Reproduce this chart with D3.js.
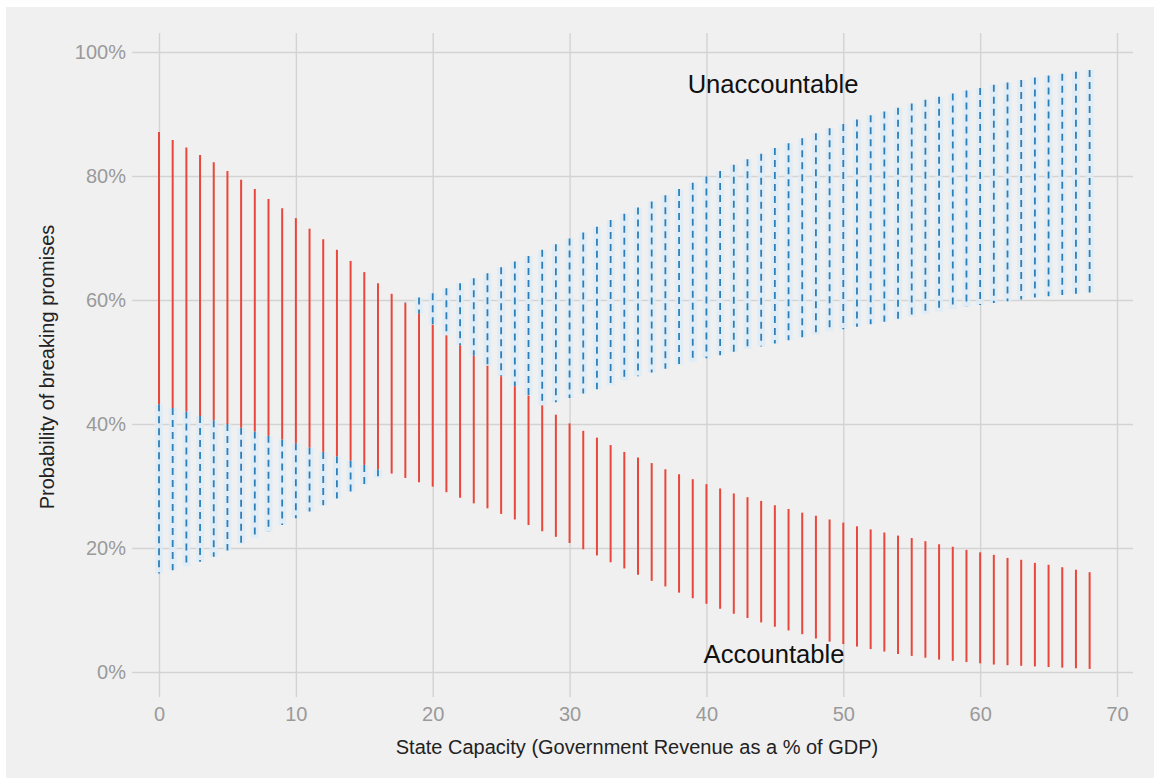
<!DOCTYPE html>
<html>
<head>
<meta charset="utf-8">
<script src="https://cdn.jsdelivr.net/npm/d3@7"></script>
<style>
  html, body { margin: 0; padding: 0; background: #ffffff; }
  svg { display: block; }
  text { font-family: "Liberation Sans", Arial, Helvetica, sans-serif; }
</style>
</head>
<body>
<svg id="chart" width="1154" height="778"></svg>
<script>
// State capacity (government revenue, % of GDP)
const capacity = d3.range(0, 69);

// Accountable governments: range of predicted probability (%)
const accountableHigh = [
  87.1, 85.8, 84.6, 83.4, 82.2, 80.8, 79.4, 77.9, 76.3, 74.8,
  73.2, 71.5, 69.8, 68.1, 66.3, 64.5, 62.7, 61.0, 59.5, 57.8,
  56.0, 54.3, 52.7, 51.0, 49.4, 47.7, 46.1, 44.6, 43.0, 41.5,
  40.1, 38.9, 37.8, 36.6, 35.5, 34.6, 33.7, 32.7, 31.9, 31.1,
  30.3, 29.6, 28.8, 28.2, 27.6, 26.9, 26.3, 25.7, 25.2, 24.6,
  24.1, 23.5, 23.0, 22.5, 22.0, 21.6, 21.1, 20.6, 20.2, 19.7,
  19.3, 18.9, 18.4, 18.1, 17.6, 17.3, 16.9, 16.5, 16.1
];
const accountableLow = [
  43.2, 42.6, 42.0, 41.3, 40.6, 40.0, 39.4, 38.8, 38.1, 37.5,
  36.9, 36.2, 35.5, 34.8, 34.1, 33.4, 32.7, 32.0, 31.3, 30.6,
  29.9, 29.0, 28.1, 27.2, 26.4, 25.5, 24.6, 23.7, 22.7, 21.8,
  20.8, 19.8, 18.8, 17.7, 16.7, 15.7, 14.7, 13.8, 12.8, 11.9,
  11.0, 10.2, 9.4, 8.7, 8.0, 7.3, 6.7, 6.1, 5.4, 4.9,
  4.5, 4.1, 3.7, 3.3, 2.9, 2.6, 2.3, 2.0, 1.8, 1.6,
  1.4, 1.2, 1.1, 1.0, 0.9, 0.8, 0.7, 0.6, 0.5
];

// Unaccountable governments: range of predicted probability (%)
const unaccountableHigh = [
  49.8, 50.2, 50.6, 51.0, 51.5, 52.0, 52.5, 53.0, 53.5, 54.0,
  54.6, 55.2, 55.8, 56.4, 57.0, 57.6, 58.3, 59.0, 59.6, 60.4,
  61.1, 61.9, 62.7, 63.5, 64.3, 65.3, 66.2, 67.1, 68.1, 69.0,
  69.9, 70.9, 71.8, 72.9, 73.9, 74.9, 75.9, 76.9, 77.9, 78.9,
  79.9, 80.8, 81.8, 82.7, 83.6, 84.5, 85.3, 86.1, 86.9, 87.7,
  88.4, 89.1, 89.8, 90.4, 91.0, 91.7, 92.3, 92.8, 93.3, 93.8,
  94.2, 94.7, 95.1, 95.5, 95.9, 96.2, 96.5, 96.8, 97.1
];
const unaccountableLow = [
  15.9, 16.4, 17.0, 17.8, 18.6, 19.6, 20.6, 21.6, 22.6, 23.7,
  24.8, 25.9, 26.9, 28.0, 29.1, 30.2, 31.3, 32.4, 33.4, 34.4,
  35.4, 36.4, 37.4, 38.4, 39.3, 40.2, 41.1, 42.0, 42.8, 43.5,
  44.2, 44.9, 45.6, 46.3, 47.0, 47.7, 48.3, 48.9, 49.5, 50.0,
  50.6, 51.1, 51.6, 52.1, 52.5, 53.0, 53.5, 54.0, 54.4, 54.9,
  55.3, 55.7, 56.1, 56.5, 56.9, 57.3, 57.7, 58.1, 58.5, 58.9,
  59.2, 59.5, 59.8, 60.1, 60.4, 60.6, 60.8, 61.0, 61.2
];

const xTicks = [0, 10, 20, 30, 40, 50, 60, 70];
const yTicks = [0, 0.2, 0.4, 0.6, 0.8, 1.0];
const xTitle = "State Capacity (Government Revenue as a % of GDP)";
const yTitle = "Probability of breaking promises";

const W = 1154, H = 778;
const svg = d3.select("#chart");

// panel background
svg.append("rect").attr("x", 6).attr("y", 7)
  .attr("width", W - 6).attr("height", H - 7).attr("fill", "#f0f0f0");

const x = d3.scaleLinear().domain([0, 70]).range([159, 1117]);
const y = d3.scaleLinear().domain([0, 1]).range([672, 52]);

const gridLeft = 132, gridRight = 1133, gridTop = 33, gridBottom = 697;

// y axis with full-width gridlines
const yAxis = svg.append("g")
  .attr("transform", `translate(${gridLeft},0)`)
  .call(d3.axisLeft(y).tickValues(yTicks).tickFormat(d3.format(".0%"))
    .tickSize(-(gridRight - gridLeft)).tickPadding(6));
yAxis.select(".domain").remove();
yAxis.selectAll(".tick line").attr("stroke", "#d3d3d3").attr("stroke-width", 1.6);
yAxis.selectAll(".tick text").attr("fill", "#9a9a9a").attr("font-size", 20)
  .attr("font-family", "'Liberation Sans', Arial, sans-serif");

// x axis with full-height gridlines
const xAxis = svg.append("g")
  .attr("transform", `translate(0,${gridBottom})`)
  .call(d3.axisBottom(x).tickValues(xTicks).tickFormat(d3.format("d"))
    .tickSize(-(gridBottom - gridTop)).tickPadding(10));
xAxis.select(".domain").remove();
xAxis.selectAll(".tick line").attr("stroke", "#d3d3d3").attr("stroke-width", 1.4);
xAxis.selectAll(".tick text").attr("fill", "#9a9a9a").attr("font-size", 20)
  .attr("font-family", "'Liberation Sans', Arial, sans-serif");

const accountable = capacity.map((c, i) => ({ c, lo: accountableLow[i] / 100, hi: accountableHigh[i] / 100 }));
const unaccountable = capacity.map((c, i) => ({ c, lo: unaccountableLow[i] / 100, hi: unaccountableHigh[i] / 100 }));

// the accountable ranges sit on top: keep only the uncovered parts of each unaccountable range
const visibleParts = [];
unaccountable.forEach((u, i) => {
  const a = accountable[i];
  if (u.lo < a.lo) visibleParts.push({ c: u.c, lo: u.lo, hi: Math.min(u.hi, a.lo) });
  if (u.hi > a.hi) visibleParts.push({ c: u.c, lo: Math.max(u.lo, a.hi), hi: u.hi });
});

// soft blue glow around the dashed ranges
svg.append("g").selectAll("line").data(visibleParts).join("line")
  .attr("x1", d => x(d.c)).attr("x2", d => x(d.c))
  .attr("y1", d => y(d.lo)).attr("y2", d => y(d.hi))
  .attr("stroke", "#dcedf9").attr("stroke-width", 8).attr("opacity", 0.75);

// unaccountable ranges: dashed blue
svg.append("g").selectAll("line").data(visibleParts).join("line")
  .attr("x1", d => x(d.c)).attr("x2", d => x(d.c))
  .attr("y1", d => y(d.hi)).attr("y2", d => y(d.lo))
  .attr("stroke", "#2f7fb6").attr("stroke-width", 1.8)
  .attr("stroke-dasharray", "7,5");

// accountable ranges: solid red
svg.append("g").selectAll("line").data(accountable).join("line")
  .attr("x1", d => x(d.c)).attr("x2", d => x(d.c))
  .attr("y1", d => y(d.lo)).attr("y2", d => y(d.hi))
  .attr("stroke", "#e9473b").attr("stroke-width", 2);

// labels
svg.append("text").attr("x", 773).attr("y", 93)
  .attr("text-anchor", "middle").attr("font-size", 25.6).attr("fill", "#111")
  .text("Unaccountable");
svg.append("text").attr("x", 774).attr("y", 663)
  .attr("text-anchor", "middle").attr("font-size", 25.6).attr("fill", "#111")
  .text("Accountable");

// axis titles
svg.append("text").attr("x", 637).attr("y", 754)
  .attr("text-anchor", "middle").attr("font-size", 20).attr("fill", "#222")
  .text(xTitle);
svg.append("text").attr("transform", "translate(54,367) rotate(-90)")
  .attr("text-anchor", "middle").attr("font-size", 20).attr("fill", "#222")
  .text(yTitle);
</script>
</body>
</html>
